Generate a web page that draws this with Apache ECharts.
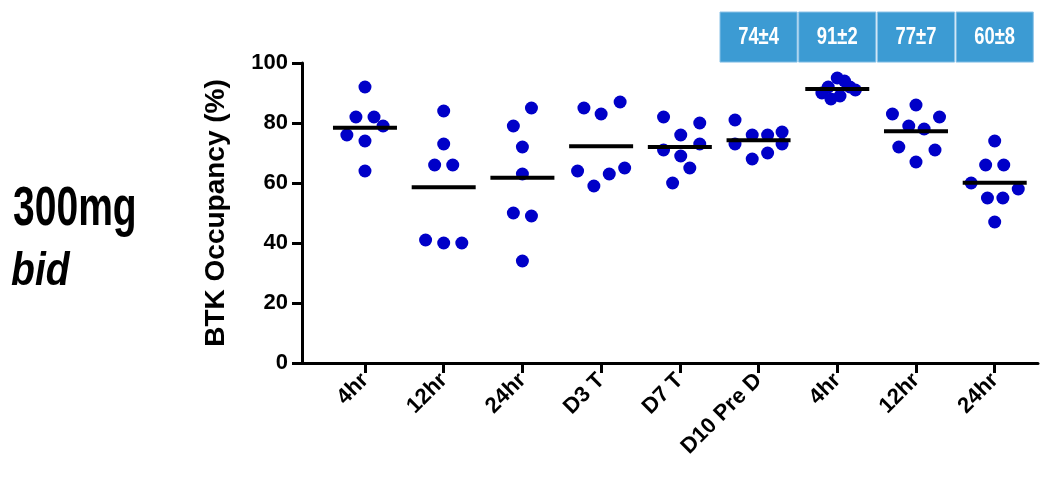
<!DOCTYPE html>
<html>
<head>
<meta charset="utf-8">
<script src="https://cdn.jsdelivr.net/npm/echarts@6/dist/echarts.min.js"></script>
<style>
  html, body { margin: 0; background: #fff; }
  #main { width: 1044px; height: 480px; }
</style>
</head>
<body>
<div id="main"></div>
<script>
const categories = ['4hr', '12hr', '24hr', 'D3 T', 'D7 T', 'D10 Pre D', '4hr', '12hr', '24hr'];

// BTK occupancy (%) per subject, one list per time point
const occupancy = [
  [92, 82, 82, 79, 76, 74, 64],
  [84, 73, 66, 66, 41, 40, 40],
  [85, 79, 72, 63, 50, 49, 34],
  [85, 83, 87, 64, 59, 63, 65],
  [82, 76, 80, 71, 73, 69, 65, 60],
  [81, 76, 76, 77, 73, 73, 68, 70],
  [95, 94, 92, 91, 92, 90, 88, 89],
  [86, 83, 82, 79, 78, 72, 71, 67],
  [74, 66, 66, 60, 58, 55, 55, 47]
];

// horizontal spread of the dots, in dot slots
const jitter = [
  [0, -1, 1, 2, -2, 0, 0],
  [0, 0, -1, 1, -2, 0, 2],
  [1, -1, 0, 0, -1, 1, 0],
  [-1.9, 0, 2.1, -2.6, -0.8, 0.9, 2.6],
  [-1.8, 0.1, 2.2, -1.8, 2.2, 0.1, 1.1, -0.8],
  [-2.6, -0.7, 1, 2.6, -2.6, 2.6, -0.7, 1],
  [0, 0.8, 1.4, 2, -1, -1.7, -0.7, 0.3],
  [0, -2.6, 2.6, -0.8, 0.9, -1.9, 2.1, 0],
  [0, -1, 1, -2.6, 2.6, -0.8, 0.9, 0]
];

const statGroups = [6, 7, 8, 9];
const statLabels = ['74±4', '91±2', '77±7', '60±8'];

const SLOT = 0.115;
const positions = categories.map((c, i) => i + 1);

const points = [];
occupancy.forEach((vals, i) => {
  vals.forEach((v, j) => points.push([positions[i] + jitter[i][j] * SLOT, v]));
});

const means = occupancy.map((vals, i) => {
  const m = vals.reduce((a, b) => a + b, 0) / vals.length;
  return [positions[i], m];
});

const chart = echarts.init(document.getElementById('main'));

const axisFont = { color: '#000', fontWeight: 'bold', fontFamily: 'Liberation Sans, Arial, sans-serif' };

chart.setOption({
  animation: false,
  grid: { left: 302, right: 6, top: 63, bottom: 117 },
  xAxis: {
    type: 'value',
    min: 0.2,
    max: 9.55,
    splitLine: { show: false },
    axisLine: { show: true, lineStyle: { color: '#000', width: 3 } },
    axisTick: { show: true, customValues: positions, length: 10, lineStyle: { color: '#000', width: 3 } },
    axisLabel: {
      customValues: positions,
      formatter: (v) => categories[Math.round(v) - 1],
      rotate: 45,
      margin: 14,
      fontSize: 22,
      ...axisFont
    }
  },
  yAxis: {
    type: 'value',
    min: 0,
    max: 100,
    interval: 20,
    splitLine: { show: false },
    axisLine: { show: true, lineStyle: { color: '#000', width: 3 } },
    axisTick: { show: true, length: 10, lineStyle: { color: '#000', width: 3 } },
    axisLabel: { margin: 14, fontSize: 22, ...axisFont },
    name: 'BTK Occupancy (%)',
    nameLocation: 'middle',
    nameRotate: 90,
    nameGap: 72,
    nameTextStyle: { fontSize: 28, ...axisFont }
  },
  graphic: [
    {
      type: 'text', x: 13, y: 210, scaleX: 0.71,
      style: { text: '300mg', font: 'bold 55px "Liberation Sans", Arial', fill: '#000', verticalAlign: 'middle' }
    },
    {
      type: 'text', x: 11, y: 272, scaleX: 0.85,
      style: { text: 'bid', font: 'italic bold 46px "Liberation Sans", Arial', fill: '#000', verticalAlign: 'middle' }
    }
  ],
  series: [
    {
      type: 'scatter',
      data: points,
      symbolSize: 13,
      itemStyle: { color: '#0000c8', opacity: 1 },
      z: 2
    },
    {
      type: 'scatter',
      data: means,
      symbol: 'rect',
      symbolSize: [64, 4],
      itemStyle: { color: '#000', opacity: 1 },
      z: 3
    },
    {
      type: 'custom',
      clip: false,
      data: statGroups.map((g) => [g]),
      renderItem: function (params, api) {
        const x = api.value(0);
        const p1 = api.coord([x - 0.49, 117]);
        const p2 = api.coord([x + 0.49, 100.3]);
        return {
          type: 'group',
          children: [
            {
              type: 'rect',
              shape: { x: p1[0], y: p1[1], width: p2[0] - p1[0], height: p2[1] - p1[1] },
              style: { fill: '#3c9bd3', stroke: '#8cc3e8', lineWidth: 1 }
            },
            {
              type: 'text',
              x: (p1[0] + p2[0]) / 2,
              y: (p1[1] + p2[1]) / 2 + 1,
              scaleX: 0.8,
              style: {
                text: statLabels[params.dataIndex],
                fill: '#fff',
                font: 'bold 23px "Liberation Sans", Arial',
                align: 'center',
                verticalAlign: 'middle'
              }
            }
          ]
        };
      },
      z: 4
    }
  ]
});
</script>
</body>
</html>
